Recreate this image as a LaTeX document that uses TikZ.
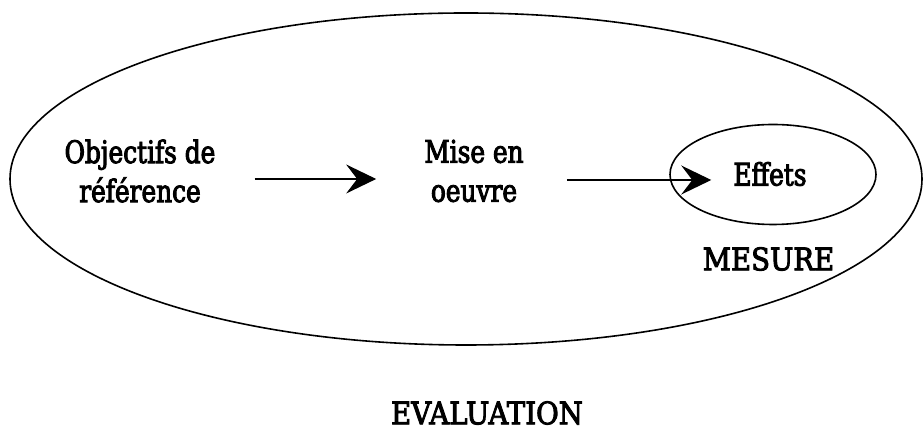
\documentclass[tikz,border=0pt]{standalone}
\usepackage{fontspec}
\setmainfont{DejaVu Serif}[FakeStretch=0.8, FakeBold=3]
\newfontfamily\capsfont{DejaVu Serif}[FakeStretch=0.89, FakeBold=3]
\usetikzlibrary{shapes.geometric, arrows.meta, positioning}

\begin{document}
\begin{tikzpicture}[
    x=1pt, y=1pt,
    font=\fontsize{31}{39}\selectfont,
    txt/.style={align=center, inner sep=0pt},
    capstxt/.style={txt, font=\capsfont\fontsize{31}{39}\selectfont},
    zone/.style={ellipse, draw=black, line width=1.6pt, inner sep=0pt},
    arrow/.style={-{Stealth[length=30pt, width=29pt, inset=11pt]}, line width=1.2pt}
]
\useasboundingbox (0,0) rectangle (924,430);

% --- ZONES ---
\node (evaluation) [zone, minimum width=912pt, minimum height=332pt] at (466,251) {};
\node (zonemesure) [zone, minimum width=206pt, minimum height=100pt] at (773,255.5) {};

% --- NODES ---
\node (obj) [txt] at (140,259) {Objectifs de\\référence};
\node (mise) [txt] at (474,259) {Mise en\\oeuvre};
\node (effets) [txt] at (770,256) {Effets};
\node (mesure) [capstxt] at (768.5,171) {MESURE};
\node (evallabel) [capstxt] at (487,17) {EVALUATION};

% --- CONNECTIONS ---
\draw [arrow] ([xshift=39pt, yshift=-8pt]obj.east) -- ([xshift=-48pt, yshift=-8pt]mise.west);
\draw [arrow] ([xshift=43pt, yshift=-9pt]mise.east) -- ([xshift=-22pt, yshift=-6pt]effets.west);

\end{tikzpicture}
\end{document}
